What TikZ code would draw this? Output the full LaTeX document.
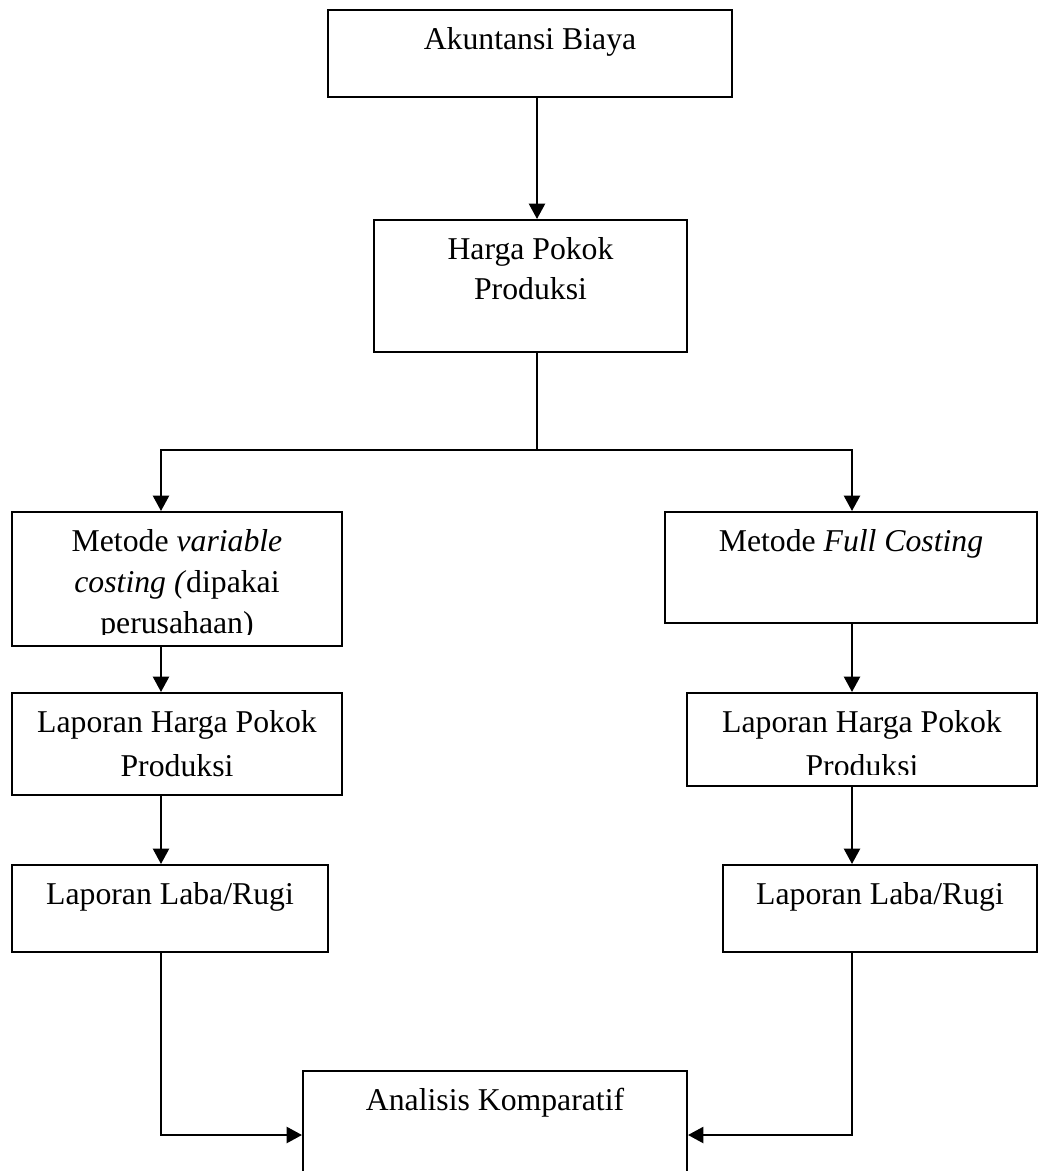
\documentclass[tikz,border=0pt]{standalone}
\usepackage{fontspec}
\setmainfont{Liberation Serif}
\usetikzlibrary{arrows.meta,fit}
% invisible rule fixing the first baseline 30pt below the box top
\newcommand\firstline{\rule{0pt}{30pt}}
\begin{document}
\begin{tikzpicture}[x=0.75pt,y=-0.75pt,
  blk/.style={draw,line width=1.5pt,inner sep=0pt},
  lbl/.style={anchor=north,inner sep=0pt,align=center,font=\fontsize{23.8}{30}\selectfont},
  lbltall/.style={lbl,font=\fontsize{23.8}{33}\selectfont},
  arr/.style={line width=1.7pt,-{Triangle[length=11.5pt,width=12pt]}}]
\useasboundingbox (0,0) rectangle (1040,1171);

% boxes
\node[blk,fit={(328,10) (732,97)}] (acc) {};
\node[blk,fit={(374,220) (687,352)}] (hpp) {};
\node[blk,fit={(12,512) (342,646)}] (var) {};
\node[blk,fit={(665,512) (1037,623)}] (full) {};
\node[blk,fit={(12,693) (342,795)}] (hppL) {};
\node[blk,fit={(687,693) (1037,786)}] (hppR) {};
\node[blk,fit={(12,865) (328,952)}] (labL) {};
\node[blk,fit={(723,865) (1037,952)}] (labR) {};
\node[blk,fit={(303,1071) (687,1199)}] (ana) {};

% texts
\node[lbl] (accT) at (acc.north) {\firstline Akuntansi Biaya};
\node[lbl] (hppT) at (hpp.north) {\firstline Harga Pokok\\Produksi};
\begin{scope}
  \clip (12,512) rectangle (342,634);
  \node[lbl,font=\fontsize{23.8}{30.75}\selectfont] (varT) at (var.north)
    {\firstline Metode \textit{variable}\\\textit{costing (}dipakai\\perusahaan)};
\end{scope}
\node[lbl] (fullT) at (full.north) {\firstline Metode \textit{Full Costing}};
\node[lbltall] (hppLT) at (hppL.north) {\firstline Laporan Harga Pokok\\Produksi};
\begin{scope}
  \clip (687,693) rectangle (1037,774);
  \node[lbltall] (hppRT) at (hppR.north) {\firstline Laporan Harga Pokok\\Produksi};
\end{scope}
\node[lbl] (labLT) at (labL.north) {\firstline Laporan Laba/Rugi};
\node[lbl] (labRT) at (labR.north) {\firstline Laporan Laba/Rugi};
\node[lbl] (anaT) at (ana.north) {\firstline Analisis Komparatif};

% connector columns
\coordinate (stem) at (537,0);
\coordinate (lx) at (161,0);
\coordinate (rx) at (852,0);
\coordinate (split) at (537,450);

\draw[arr] (acc.south -| stem) -- (hpp.north -| stem);
\draw[arr] (hpp.south -| stem) -- (split) -| (var.north -| lx);
\draw[arr] (split) -| (full.north -| rx);
\draw[arr] (var.south -| lx) -- (hppL.north -| lx);
\draw[arr] (full.south -| rx) -- (hppR.north -| rx);
\draw[arr] (hppL.south -| lx) -- (labL.north -| lx);
\draw[arr] (hppR.south -| rx) -- (labR.north -| rx);
\draw[arr] (labL.south -| lx) |- (ana.west);
\draw[arr] (labR.south -| rx) |- (ana.east);
\end{tikzpicture}
\end{document}
